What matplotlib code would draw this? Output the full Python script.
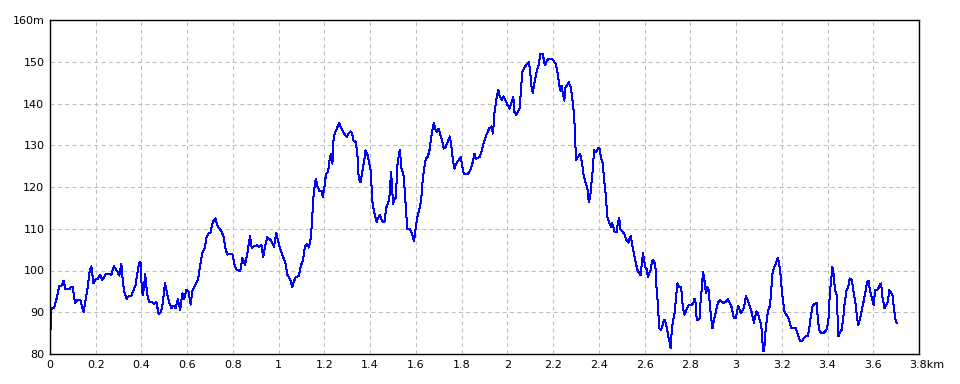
import matplotlib
matplotlib.use("Agg")
import matplotlib.pyplot as plt
from matplotlib.transforms import ScaledTranslation

# ── Elevation profile (distance in km, elevation in m) ──
dist_km = [
    0.000, 0.003, 0.007, 0.018, 0.029, 0.040, 0.050, 0.059, 0.068, 0.084,
    0.091, 0.100, 0.109, 0.121, 0.132, 0.147, 0.156, 0.165, 0.174, 0.181,
    0.190, 0.201, 0.210, 0.218, 0.229, 0.244, 0.268, 0.279, 0.294, 0.303,
    0.312, 0.319, 0.326, 0.335, 0.346, 0.356, 0.365, 0.374, 0.382, 0.390,
    0.396, 0.401, 0.406, 0.411, 0.416, 0.426, 0.434, 0.449, 0.456, 0.465,
    0.475, 0.485, 0.494, 0.503, 0.510, 0.522, 0.531, 0.540, 0.549, 0.559,
    0.569, 0.579, 0.587, 0.596, 0.606, 0.615, 0.622, 0.632, 0.647, 0.656,
    0.665, 0.676, 0.685, 0.694, 0.701, 0.712, 0.724, 0.729, 0.738, 0.750,
    0.759, 0.768, 0.776, 0.785, 0.797, 0.806, 0.813, 0.824, 0.832, 0.841,
    0.853, 0.863, 0.869, 0.875, 0.882, 0.891, 0.906, 0.915, 0.924, 0.932,
    0.941, 0.950, 0.960, 0.969, 0.979, 0.990, 0.997, 1.006, 1.018, 1.029,
    1.038, 1.050, 1.059, 1.066, 1.074, 1.088, 1.096, 1.106, 1.115, 1.125,
    1.132, 1.141, 1.147, 1.151, 1.156, 1.162, 1.171, 1.179, 1.188, 1.193,
    1.200, 1.207, 1.216, 1.222, 1.229, 1.235, 1.239, 1.245, 1.254, 1.265,
    1.274, 1.286, 1.297, 1.306, 1.315, 1.321, 1.326, 1.337, 1.344, 1.350,
    1.358, 1.367, 1.374, 1.380, 1.389, 1.396, 1.402, 1.410, 1.419, 1.428,
    1.437, 1.443, 1.451, 1.462, 1.467, 1.472, 1.479, 1.486, 1.491, 1.495,
    1.500, 1.505, 1.513, 1.518, 1.527, 1.530, 1.537, 1.545, 1.550, 1.556,
    1.562, 1.574, 1.582, 1.592, 1.598, 1.606, 1.614, 1.623, 1.629, 1.635,
    1.643, 1.652, 1.661, 1.667, 1.673, 1.678, 1.687, 1.693, 1.700, 1.707,
    1.716, 1.722, 1.730, 1.739, 1.748, 1.753, 1.759, 1.768, 1.777, 1.786,
    1.796, 1.802, 1.809, 1.828, 1.838, 1.847, 1.856, 1.862, 1.880, 1.886,
    1.896, 1.908, 1.920, 1.930, 1.937, 1.944, 1.952, 1.960, 1.966, 1.975,
    1.984, 1.992, 2.001, 2.010, 2.019, 2.026, 2.031, 2.039, 2.046, 2.053,
    2.059, 2.065, 2.076, 2.085, 2.094, 2.100, 2.106, 2.111, 2.119, 2.129,
    2.138, 2.143, 2.155, 2.164, 2.172, 2.181, 2.193, 2.201, 2.211, 2.219,
    2.225, 2.231, 2.237, 2.243, 2.249, 2.254, 2.260, 2.268, 2.277, 2.283,
    2.289, 2.295, 2.300, 2.309, 2.318, 2.327, 2.332, 2.341, 2.350, 2.356,
    2.362, 2.368, 2.373, 2.379, 2.388, 2.396, 2.402, 2.409, 2.417, 2.424,
    2.431, 2.437, 2.446, 2.453, 2.457, 2.463, 2.469, 2.478, 2.483, 2.489,
    2.495, 2.504, 2.513, 2.521, 2.529, 2.533, 2.539, 2.545, 2.553, 2.562,
    2.569, 2.577, 2.583, 2.588, 2.593, 2.597, 2.603, 2.609, 2.615, 2.620,
    2.626, 2.632, 2.638, 2.647, 2.652, 2.658, 2.664, 2.670, 2.676, 2.682,
    2.687, 2.693, 2.699, 2.705, 2.711, 2.714, 2.719, 2.725, 2.731, 2.737,
    2.743, 2.751, 2.760, 2.765, 2.769, 2.775, 2.781, 2.786, 2.795, 2.807,
    2.813, 2.819, 2.823, 2.828, 2.836, 2.841, 2.845, 2.851, 2.855, 2.860,
    2.864, 2.869, 2.874, 2.879, 2.885, 2.891, 2.897, 2.903, 2.909, 2.915,
    2.920, 2.929, 2.938, 2.947, 2.955, 2.964, 2.973, 2.982, 2.990, 2.999,
    3.005, 3.009, 3.015, 3.021, 3.031, 3.037, 3.043, 3.051, 3.060, 3.069,
    3.078, 3.084, 3.090, 3.095, 3.101, 3.110, 3.116, 3.120, 3.124, 3.130,
    3.139, 3.148, 3.153, 3.159, 3.168, 3.177, 3.183, 3.188, 3.194, 3.200,
    3.206, 3.212, 3.220, 3.232, 3.241, 3.250, 3.261, 3.270, 3.279, 3.287,
    3.296, 3.305, 3.314, 3.319, 3.325, 3.334, 3.343, 3.352, 3.357, 3.363,
    3.372, 3.381, 3.390, 3.398, 3.404, 3.410, 3.416, 3.421, 3.426, 3.430,
    3.436, 3.442, 3.444, 3.447, 3.453, 3.462, 3.468, 3.474, 3.483, 3.491,
    3.497, 3.506, 3.515, 3.524, 3.530, 3.535, 3.541, 3.550, 3.559, 3.567,
    3.573, 3.579, 3.585, 3.594, 3.602, 3.608, 3.616, 3.622, 3.628, 3.634,
    3.640, 3.649, 3.658, 3.664, 3.670, 3.676, 3.684, 3.690, 3.696, 3.702,
]
elev_m = [
    83.0, 87.0, 91.0, 91.0, 93.3, 96.3, 96.3, 97.5, 95.5, 95.5,
    96.0, 96.0, 92.2, 93.0, 93.0, 90.0, 93.0, 96.0, 100.0, 101.0,
    97.0, 98.0, 98.0, 99.0, 97.7, 99.2, 99.0, 101.0, 99.8, 98.8,
    101.6, 97.0, 94.6, 93.2, 94.0, 94.0, 95.2, 96.5, 99.3, 101.8,
    102.0, 96.0, 94.0, 96.0, 99.1, 94.0, 92.5, 92.3, 92.0, 92.5,
    89.6, 90.0, 92.5, 97.0, 95.0, 92.2, 91.0, 91.6, 91.0, 93.2,
    90.6, 94.5, 93.2, 95.4, 95.0, 91.8, 95.0, 96.2, 97.8, 101.0,
    104.0, 105.3, 108.0, 109.0, 109.0, 111.7, 112.5, 111.2, 110.2, 109.4,
    108.0, 105.0, 103.8, 104.0, 104.0, 101.7, 100.3, 100.0, 99.8, 103.0,
    101.4, 104.0, 106.5, 108.2, 105.3, 105.8, 106.0, 105.7, 106.2, 103.2,
    106.0, 108.0, 107.5, 107.0, 105.7, 109.0, 107.0, 105.4, 103.4, 102.0,
    99.0, 97.9, 96.0, 97.3, 98.4, 98.7, 101.0, 102.5, 105.7, 106.3,
    105.5, 108.0, 113.0, 117.0, 119.7, 122.0, 119.9, 119.0, 119.0, 117.6,
    120.0, 123.2, 123.6, 126.4, 128.0, 125.6, 130.8, 132.8, 134.0, 135.3,
    134.0, 132.8, 132.0, 132.8, 133.3, 132.8, 131.2, 130.8, 128.0, 122.0,
    121.2, 124.0, 126.4, 128.8, 127.6, 125.6, 124.0, 116.4, 113.6, 111.6,
    112.8, 113.2, 112.0, 111.5, 113.6, 115.4, 116.0, 118.4, 123.6, 120.8,
    116.0, 116.8, 117.6, 124.8, 128.4, 128.8, 124.4, 123.2, 120.0, 115.2,
    110.0, 110.0, 108.9, 107.0, 109.6, 112.8, 114.4, 116.8, 121.2, 124.0,
    126.8, 127.2, 129.2, 132.0, 134.0, 135.3, 133.6, 133.2, 134.0, 132.4,
    130.8, 129.2, 129.6, 130.8, 132.1, 130.8, 127.6, 124.4, 125.6, 126.4,
    127.2, 125.2, 123.2, 123.2, 124.0, 125.6, 128.0, 126.8, 127.2, 128.4,
    130.4, 132.4, 134.0, 134.5, 132.8, 138.0, 141.1, 143.3, 141.9, 140.9,
    141.7, 140.7, 139.6, 138.8, 140.4, 141.5, 138.0, 137.2, 138.0, 138.8,
    142.7, 147.5, 148.7, 149.5, 149.9, 147.5, 143.9, 142.5, 145.1, 147.9,
    149.5, 151.8, 151.8, 149.1, 150.2, 150.7, 150.7, 150.3, 149.5, 147.5,
    145.1, 143.1, 144.3, 142.3, 140.7, 143.9, 144.3, 145.1, 143.9, 141.5,
    138.8, 134.0, 126.4, 127.2, 128.0, 125.6, 123.2, 121.2, 119.6, 116.4,
    117.6, 121.2, 123.8, 128.8, 128.4, 129.2, 129.4, 127.2, 125.6, 121.2,
    117.6, 112.9, 111.3, 110.5, 111.4, 110.5, 109.3, 109.3, 111.3, 112.5,
    109.7, 109.3, 108.5, 107.3, 106.7, 107.5, 108.3, 106.5, 104.1, 101.7,
    100.1, 99.3, 98.9, 101.7, 104.1, 102.9, 100.9, 100.3, 98.5, 99.3,
    100.1, 102.1, 102.5, 101.3, 96.1, 92.2, 86.2, 85.8, 86.2, 87.8,
    88.2, 87.4, 85.8, 83.8, 82.6, 81.4, 85.8, 88.2, 89.8, 92.9,
    96.9, 96.1, 96.1, 92.5, 90.6, 89.4, 90.2, 91.0, 91.8, 91.8,
    92.2, 93.3, 92.2, 88.2, 88.2, 88.6, 92.9, 96.1, 99.7, 98.5,
    96.5, 94.5, 96.1, 95.7, 92.2, 88.6, 86.2, 88.2, 89.4, 91.0,
    92.2, 92.9, 92.5, 92.2, 92.5, 93.1, 92.2, 91.0, 88.6, 88.6,
    90.2, 91.5, 90.6, 89.9, 90.6, 91.8, 93.9, 92.9, 91.4, 89.8,
    87.5, 89.0, 90.2, 89.8, 88.6, 87.0, 82.6, 80.6, 81.8, 86.2,
    90.2, 91.5, 94.5, 99.3, 100.9, 102.1, 103.1, 101.7, 99.3, 95.3,
    92.5, 90.2, 89.4, 88.2, 86.2, 86.2, 86.2, 84.6, 83.2, 83.0,
    83.8, 84.3, 84.2, 85.8, 88.2, 91.4, 92.0, 92.2, 89.0, 85.8,
    85.0, 85.0, 85.4, 86.2, 88.2, 94.5, 97.7, 100.9, 99.3, 96.9,
    94.5, 94.1, 88.2, 84.2, 85.0, 85.8, 88.2, 91.8, 95.3, 96.1,
    98.1, 97.7, 94.5, 91.4, 88.2, 87.0, 88.2, 90.6, 92.9, 95.3,
    97.1, 97.6, 95.3, 93.3, 91.8, 95.3, 95.3, 95.7, 96.5, 96.9,
    93.7, 91.0, 91.8, 92.5, 95.3, 94.9, 94.1, 91.0, 88.6, 87.4,
]

x_ticks = [0, 0.2, 0.4, 0.6, 0.8, 1, 1.2, 1.4, 1.6, 1.8, 2, 2.2, 2.4,
           2.6, 2.8, 3, 3.2, 3.4, 3.6, 3.8]
x_labels = ["0", "0.2", "0.4", "0.6", "0.8", "1", "1.2", "1.4", "1.6",
            "1.8", "2", "2.2", "2.4", "2.6", "2.8", "3", "3.2", "3.4",
            "3.6", "3.8km"]
y_ticks = [80, 90, 100, 110, 120, 130, 140, 150, 160]
y_labels = ["80", "90", "100", "110", "120", "130", "140", "150", "160m"]

fig = plt.figure(figsize=(9.6, 3.84), dpi=100)
ax = fig.add_axes([50 / 960, 30 / 384, 869 / 960, 334 / 384])

# 1px crisp line like the original bitmap chart
ax.plot(dist_km, elev_m, color="#0000ff", linewidth=0.72, antialiased=False)

ax.set_xlim(0, 3.8)
ax.set_ylim(80, 160)
ax.set_xticks(x_ticks)
ax.set_xticklabels(x_labels)
ax.set_yticks(y_ticks)
ax.set_yticklabels(y_labels)
ax.tick_params(length=0, labelsize=8, pad=4, colors="black")
ax.grid(True, color="#c0c0c0", linestyle=(0, (4, 3)), linewidth=0.75)

for sp in ax.spines.values():
    sp.set_color("black")
    sp.set_linewidth(1.0)

# last x label hangs to the right of its tick
last = ax.get_xticklabels()[-1]
last.set_horizontalalignment("left")
last.set_transform(last.get_transform() + ScaledTranslation(-7 / 72, 0, fig.dpi_scale_trans))

fig.savefig("out.png", dpi=100)
plt.close(fig)
